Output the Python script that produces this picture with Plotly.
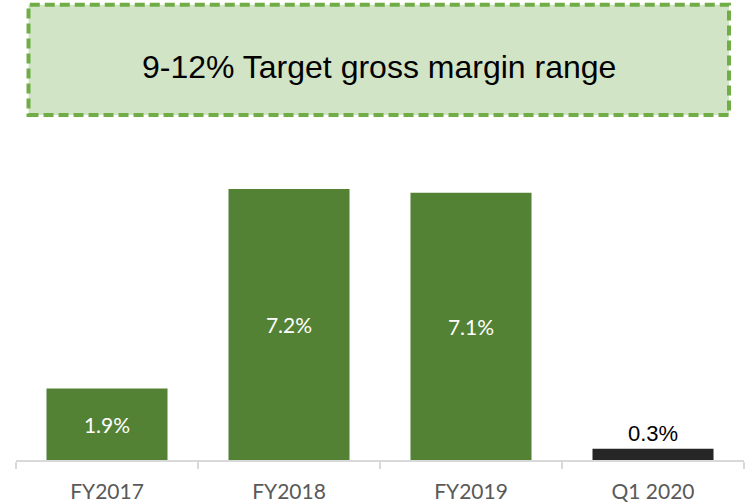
import plotly.graph_objects as go

# chart data
periods = ["FY2017", "FY2018", "FY2019", "Q1 2020"]
margins = [1.9, 7.2, 7.1, 0.3]
labels = ["1.9%", "7.2%", "7.1%", "0.3%"]
banner_text = "9-12% Target gross margin range"

GREEN = "#548235"
DARK = "#262626"
AXIS_GREY = "#d9d9d9"

# the latest (partial) period is shown dark, with its label above the bar
colors = [GREEN] * (len(periods) - 1) + [DARK]
positions = ["inside"] * (len(periods) - 1) + ["outside"]

fig = go.Figure()

fig.add_trace(go.Bar(
    x=periods,
    y=margins,
    text=labels,
    textposition=positions,
    insidetextanchor="middle",
    insidetextfont=dict(family="Lato, Carlito, sans-serif", size=21, color="white"),
    outsidetextfont=dict(family="Liberation Sans, Arial, sans-serif", size=22, color="black"),
    marker=dict(color=colors, line=dict(width=0)),
    cliponaxis=False,
    textangle=0,
    hoverinfo="x+y",
))

# dashed target banner above the bars
fig.add_shape(
    type="rect", xref="paper", yref="paper",
    x0=0.0172, x1=0.9794, y0=1.1462, y1=1.5126,
    fillcolor="#d2e4c6",
    line=dict(color="#70ad47", width=4, dash="10px,5px"),
    layer="below",
)
fig.add_annotation(
    xref="paper", yref="paper", x=0.498, y=1.307,
    text=banner_text, showarrow=False,
    xanchor="center", yanchor="middle",
    font=dict(family="Liberation Sans, Arial, sans-serif", size=32, color="black"),
)

fig.update_layout(
    width=748, height=504,
    margin=dict(l=16, r=4, t=159, b=44),
    paper_bgcolor="white",
    plot_bgcolor="white",
    bargap=0.335,
    showlegend=False,
    xaxis=dict(
        showline=True, linecolor=AXIS_GREY, linewidth=1.5,
        ticks="outside", tickson="boundaries", ticklen=7,
        tickcolor=AXIS_GREY, tickwidth=1.5,
        ticklabelstandoff=12,
        automargin=False,
        tickfont=dict(family="Lato, Carlito, sans-serif", size=21, color="#595959"),
        showgrid=False, zeroline=False,
    ),
    yaxis=dict(
        range=[0, 8.0], visible=False, showgrid=False, zeroline=False,
    ),
)

# drop the default page margin so the figure sits at the window origin
fig.write_html(
    "out.html",
    config={"displayModeBar": False},
    post_script="document.body.style.margin='0';",
)
